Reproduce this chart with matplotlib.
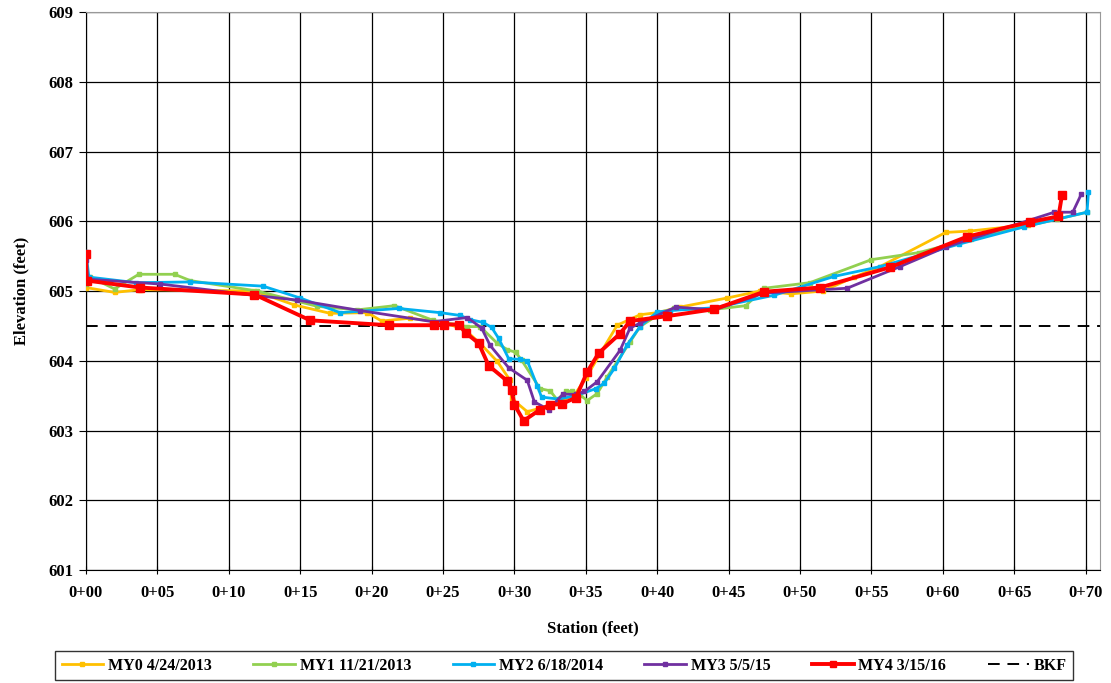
import matplotlib
matplotlib.use("Agg")
import matplotlib.pyplot as plt
from matplotlib.ticker import MultipleLocator, FuncFormatter

plt.rcParams["font.family"] = ["Liberation Serif", "DejaVu Serif"]
plt.rcParams["font.weight"] = "bold"

# Cross-section survey data: station (ft) and elevation (ft)
my0_sta = [0.0, 2.0, 3.8, 11.8, 14.6, 17.1, 19.7, 20.7, 22.7, 25.0, 26.5, 27.6, 28.8,
           29.7, 29.8, 30.9, 31.8, 33.0, 34.2, 35.0, 36.0, 37.2, 38.8, 40.0, 41.6,
           44.9, 47.2, 49.4, 51.6, 53.8, 55.6, 60.2, 61.9, 66.0, 68.0]
my0_elev = [605.05, 604.98, 605.02, 605.00, 604.80, 604.68, 604.69, 604.57, 604.61,
            604.55, 604.45, 604.25, 603.99, 603.72, 603.46, 603.27, 603.32, 603.40,
            603.51, 603.75, 604.10, 604.51, 604.66, 604.69, 604.77, 604.90, 605.00,
            604.96, 605.00, 605.20, 605.35, 605.84, 605.86, 605.95, 606.07]

my1_sta = [0.0, 0.3, 2.0, 3.7, 6.2, 7.3, 12.0, 16.2, 19.0, 21.6, 24.3, 26.7, 27.6,
           28.8, 29.5, 30.1, 30.5, 31.8, 32.5, 33.0, 33.6, 34.0, 34.6, 35.1, 35.8,
           36.5, 38.1, 38.8, 40.0, 41.2, 43.7, 46.2, 47.5, 50.7, 55.0, 58.3, 62.0,
           68.0, 70.1]
my1_elev = [605.10, 605.20, 605.03, 605.24, 605.24, 605.15, 605.00, 604.78, 604.73,
            604.79, 604.58, 604.49, 604.49, 604.25, 604.16, 604.12, 604.01, 603.60,
            603.57, 603.44, 603.56, 603.56, 603.51, 603.43, 603.53, 603.77, 604.27,
            604.49, 604.65, 604.75, 604.73, 604.79, 605.04, 605.12, 605.45, 605.55,
            605.75, 606.03, 606.13]

my2_sta = [0.0, 0.2, 3.5, 7.3, 12.4, 15.0, 17.8, 21.9, 24.8, 26.2, 26.9, 27.8, 28.4,
           28.9, 29.6, 30.4, 30.9, 31.6, 31.9, 33.1, 34.3, 35.7, 36.3, 37.0, 37.9,
           38.8, 40.0, 40.9, 44.0, 48.2, 52.4, 55.6, 61.1, 65.7, 70.1, 70.2]
my2_elev = [605.56, 605.20, 605.12, 605.13, 605.07, 604.90, 604.69, 604.75, 604.69,
            604.65, 604.59, 604.55, 604.48, 604.32, 604.03, 604.02, 604.00, 603.64,
            603.48, 603.45, 603.50, 603.60, 603.68, 603.89, 604.23, 604.49, 604.70,
            604.72, 604.76, 604.94, 605.21, 605.35, 605.67, 605.92, 606.13, 606.42]

my3_sta = [0.0, 0.1, 5.2, 11.7, 14.8, 19.2, 24.3, 26.7, 27.7, 28.3, 29.6, 30.9, 31.4,
           32.4, 33.4, 34.3, 34.9, 35.8, 37.4, 38.1, 38.8, 41.3, 44.0, 47.5, 53.3,
           57.0, 60.2, 67.8, 69.1, 69.7]
my3_elev = [605.45, 605.17, 605.10, 604.94, 604.87, 604.72, 604.56, 604.62, 604.47,
            604.22, 603.90, 603.72, 603.41, 603.30, 603.52, 603.52, 603.56, 603.70,
            604.15, 604.47, 604.54, 604.77, 604.73, 604.97, 605.04, 605.35, 605.63,
            606.13, 606.13, 606.39]

my4_sta = [0.0, 0.05, 3.8, 11.8, 15.7, 21.2, 24.4, 25.1, 26.1, 26.6, 27.5, 28.2, 29.5,
           29.8, 30.0, 30.65, 31.8, 32.5, 33.3, 34.3, 35.1, 35.9, 37.4, 38.1, 40.7,
           44.0, 47.5, 51.4, 56.3, 61.7, 66.1, 68.1, 68.35]
my4_elev = [605.53, 605.15, 605.05, 604.95, 604.58, 604.51, 604.51, 604.52, 604.52,
            604.40, 604.25, 603.93, 603.71, 603.58, 603.37, 603.14, 603.30, 603.37,
            603.38, 603.47, 603.84, 604.11, 604.39, 604.57, 604.64, 604.74, 604.99,
            605.05, 605.34, 605.78, 605.99, 606.07, 606.38]

bkf_elev = 604.5

series = [
    ("MY0 4/24/2013", my0_sta, my0_elev, "#FFC000"),
    ("MY1 11/21/2013", my1_sta, my1_elev, "#92D050"),
    ("MY2 6/18/2014", my2_sta, my2_elev, "#00B0F0"),
    ("MY3 5/5/15", my3_sta, my3_elev, "#7030A0"),
]

fig = plt.figure(figsize=(11.11, 6.83), dpi=100)
ax = fig.add_axes([0.0774, 0.1654, 0.9126, 0.8170])

for label, sta, elev, color in series:
    ax.plot(sta, elev, color=color, linewidth=2.0, marker="s", markersize=3,
            label=label, zorder=3)

ax.plot(my4_sta, my4_elev, color="#FF0000", linewidth=2.8, marker="s",
        markersize=5.5, label="MY4 3/15/16", zorder=4)

ax.axhline(bkf_elev, color="black", linewidth=1.4, linestyle=(0, (6, 4)),
           label="BKF", zorder=2)

ax.set_xlim(0, 71)
ax.set_ylim(601, 609)
ax.xaxis.set_major_locator(MultipleLocator(5))
ax.yaxis.set_major_locator(MultipleLocator(1))
ax.xaxis.set_major_formatter(FuncFormatter(lambda v, p: f"{int(v) // 100}+{int(v) % 100:02d}"))
ax.grid(True, color="black", linewidth=0.9)
ax.set_axisbelow(True)

for side in ("top", "right"):
    ax.spines[side].set_color("#999999")
for side in ("left", "bottom"):
    ax.spines[side].set_color("black")

ax.tick_params(axis="y", direction="out", length=5, labelsize=12, pad=4)
ax.tick_params(axis="x", direction="inout", length=6, labelsize=12, pad=8)
for lbl in ax.get_xticklabels() + ax.get_yticklabels():
    lbl.set_fontweight("bold")

ax.set_xlabel("Station (feet)", fontsize=12, fontweight="bold", labelpad=14)
ax.set_ylabel("Elevation (feet)", fontsize=12, fontweight="bold", labelpad=14)

leg = fig.legend(loc="center", bbox_to_anchor=(0.508, 0.0256), ncol=6,
                 frameon=True, fancybox=False, edgecolor="black",
                 prop={"weight": "bold", "size": 11.5}, handlelength=2.6,
                 handletextpad=0.3, columnspacing=2.6, borderpad=0.4,
                 markerscale=0.8)
leg.get_frame().set_linewidth(1.0)

fig.savefig("out.png", dpi=100)
